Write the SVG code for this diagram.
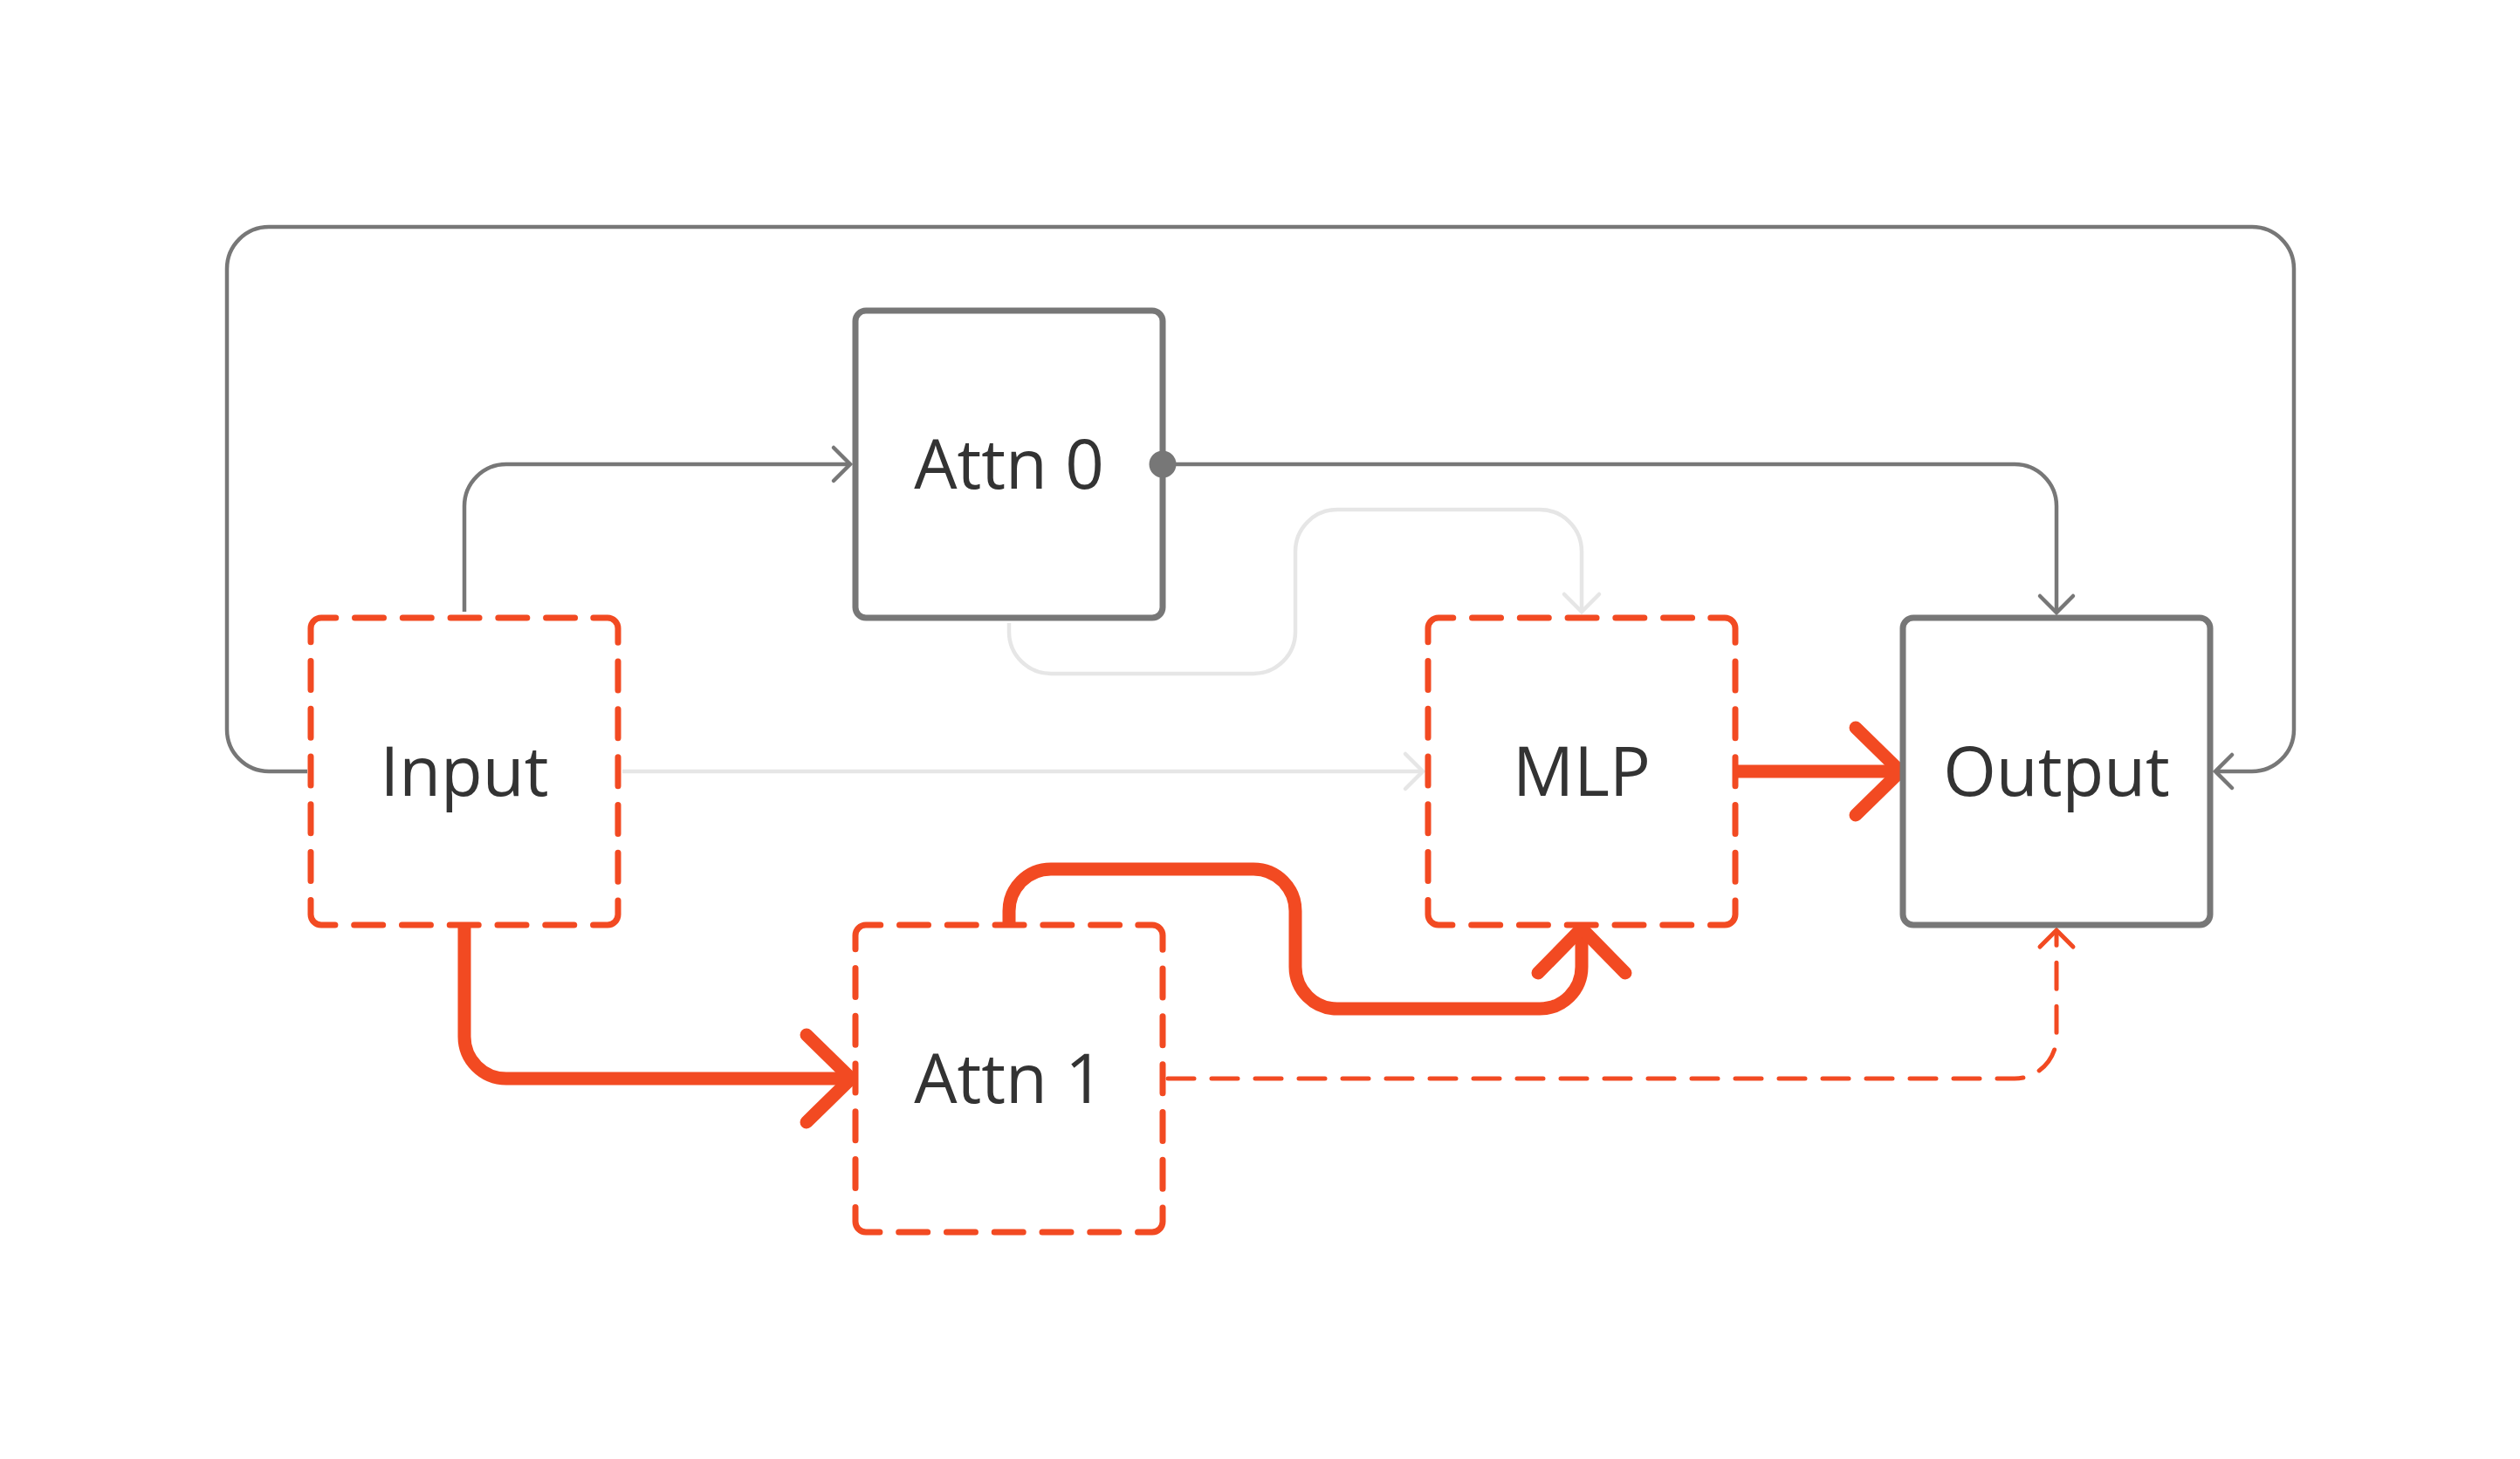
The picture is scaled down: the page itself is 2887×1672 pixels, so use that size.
<svg xmlns="http://www.w3.org/2000/svg" xmlns:xlink="http://www.w3.org/1999/xlink" width="2887" height="1672" viewBox="0 0 2887 1672">
<style>
.bg{fill:#ffffff}
.box{fill:#ffffff;stroke:#777777;stroke-width:7}
.dbox{fill:#ffffff;stroke:#f24a22;stroke-width:7;stroke-linecap:round;stroke-dasharray:51.25 21.77 33 21.77 33 21.77 33 21.77 33 21.77 33 21.77}
.lbl{font-family:"Open Sans","Noto Sans","DejaVu Sans",sans-serif;font-size:78px;fill:#333333;text-anchor:middle}
.g{fill:none;stroke:#777777;stroke-width:4.5}
.l{fill:none;stroke:#e6e6e6;stroke-width:4.5}
.r{fill:none;stroke:#f24a22;stroke-width:15}
.rd{fill:none;stroke:#f24a22;stroke-width:5;stroke-linecap:round;stroke-dasharray:30 20}
.hg{fill:none;stroke:#777777;stroke-width:4.5;stroke-linecap:round;stroke-linejoin:miter}
.hl{fill:none;stroke:#e6e6e6;stroke-width:4.5;stroke-linecap:round;stroke-linejoin:miter}
.hr{fill:none;stroke:#f24a22;stroke-width:15;stroke-linecap:round;stroke-linejoin:miter}
.hrd{fill:none;stroke:#f24a22;stroke-width:5;stroke-linecap:round;stroke-linejoin:miter}
</style>
<defs>
<path id="dpath" d="M323.8,0 H340 A12 12 0 0 1 352,12 V340 A12 12 0 0 1 340,352 H12 A12 12 0 0 1 0,340 V12 A12 12 0 0 1 12,0 Z"/>
</defs>
<rect class="bg" x="0" y="0" width="2887" height="1672"/>
<g id="connectors">
<path class="g" d="M352,884 H308 A48 48 0 0 1 260,836 V308 A48 48 0 0 1 308,260 H2580 A48 48 0 0 1 2628,308 V836 A48 48 0 0 1 2580,884 H2540"/>
<path class="hg" d="M2557,865 L2538,884 L2557,903"/>
<path class="g" d="M532,701 V580 A48 48 0 0 1 580,532 H972"/>
<path class="hg" d="M955,513 L974,532 L955,551"/>
<path class="g" d="M1332,532 H2308 A48 48 0 0 1 2356,580 V700"/>
<path class="hg" d="M2337,683 L2356,702 L2375,683"/>
<path class="l" d="M713,884 H1628"/>
<path class="hl" d="M1610,864 L1630,884 L1610,904"/>
<path class="l" d="M1156,714 V724 A48 48 0 0 0 1204,772 H1436 A48 48 0 0 0 1484,724 V632 A48 48 0 0 1 1532,584 H1764 A48 48 0 0 1 1812,632 V699"/>
<path class="hl" d="M1792,681 L1812,701 L1832,681"/>
<path class="r" d="M532,1060 V1188 A48 48 0 0 0 580,1236 H968"/>
<path class="hr" d="M924,1186 L975,1236 L924,1286"/>
<path class="r" d="M1156,1060 V1044 A48 48 0 0 1 1204,996 H1436 A48 48 0 0 1 1484,1044 V1108 A48 48 0 0 0 1532,1156 H1764 A48 48 0 0 0 1812,1108 V1070"/>
<path class="hr" d="M1762,1115 L1812,1064 L1862,1115"/>
<path class="r" d="M1988,884 H2170"/>
<path class="hr" d="M2126,834 L2177,884 L2126,934"/>
<path class="rd" d="M1338,1236 H2308 A48 48 0 0 0 2356,1188 V1068"/>
<path class="hrd" d="M2337,1085 L2356,1066 L2375,1085"/>
</g>
<g id="node-attn0">
<rect class="box" x="980" y="356" width="352" height="352" rx="12" ry="12"/>
<text class="lbl" x="1156" y="560">Attn 0</text>
<circle cx="1332" cy="532" r="15.5" fill="#777777"/>
</g>
<g id="node-input">
<use xlink:href="#dpath" class="dbox" transform="translate(356,708)"/>
<text class="lbl" x="532" y="912">Input</text>
</g>
<g id="node-mlp">
<use xlink:href="#dpath" class="dbox" transform="translate(1636,708)"/>
<text class="lbl" x="1812" y="912">MLP</text>
</g>
<g id="node-output">
<rect class="box" x="2180" y="708" width="352" height="352" rx="12" ry="12"/>
<text class="lbl" x="2356" y="912">Output</text>
</g>
<g id="node-attn1">
<use xlink:href="#dpath" class="dbox" transform="translate(980,1060)"/>
<text class="lbl" x="1156" y="1264">Attn 1</text>
</g>
</svg>
